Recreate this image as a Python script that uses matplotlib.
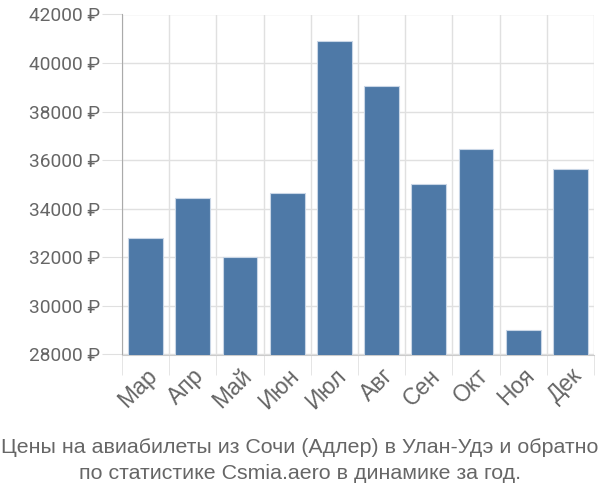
import matplotlib
matplotlib.use("Agg")
import matplotlib.pyplot as plt
import numpy as np

months = ["Мар", "Апр", "Май", "Июн", "Июл", "Авг", "Сен", "Окт", "Ноя", "Дек"]
prices = [32810, 34460, 32020, 34640, 40890, 39040, 35040, 36460, 28990, 35620]
yticks = [28000, 30000, 32000, 34000, 36000, 38000, 40000, 42000]
title = "Цены на авиабилеты из Сочи (Адлер) в Улан-Удэ и обратно\nпо статистике Csmia.aero в динамике за год."

plt.rcParams['font.family'] = ['Roboto', 'DejaVu Sans']
txt = "#666666"
fig = plt.figure(figsize=(6, 5), dpi=100)
ax = fig.add_axes([122/600, 1-354.5/500, (594-122)/600, (354.5-14.5)/500])

x = np.arange(len(months))
ax.bar(x, prices, width=0.74, color="#4e79a7", edgecolor="#c9d6e6", linewidth=0.8, zorder=3)
ax.set_xlim(-0.5, len(months) - 0.5)
ax.set_ylim(28000, 42000)

ax.set_yticks(yticks)
ax.set_yticklabels([f"{v} ₽" for v in yticks], color=txt, fontsize=13.8)
ax.set_xticks(x)
ax.set_xticklabels(months, rotation=45, ha="right", va="top", rotation_mode="anchor", color=txt, fontsize=16.5,
                   family=['Liberation Sans', 'DejaVu Sans'])
ax.tick_params(axis="x", length=0, pad=7)
ax.tick_params(axis="y", length=14.5, color="#e0e0e0", pad=1)

ax.set_xticks(np.arange(len(months) + 1) - 0.5, minor=True)
ax.tick_params(axis="x", which="minor", length=14.5, color="#e0e0e0")
ax.grid(True, which="minor", axis="x", color="#e0e0e0", linewidth=1, zorder=0)
ax.grid(True, which="major", axis="y", color="#e0e0e0", linewidth=1, zorder=0)

for s in ["top", "right"]:
    ax.spines[s].set_visible(False)
ax.spines["left"].set_color("#aaaaaa")
ax.spines["bottom"].set_color("#cccccc")

fig.text(0.5, 1 - 460.5/500, title, ha="center", va="center", color=txt, fontsize=15.4,
         linespacing=1.42, family=['Liberation Sans', 'DejaVu Sans'])
fig.savefig("out.png", dpi=100)
